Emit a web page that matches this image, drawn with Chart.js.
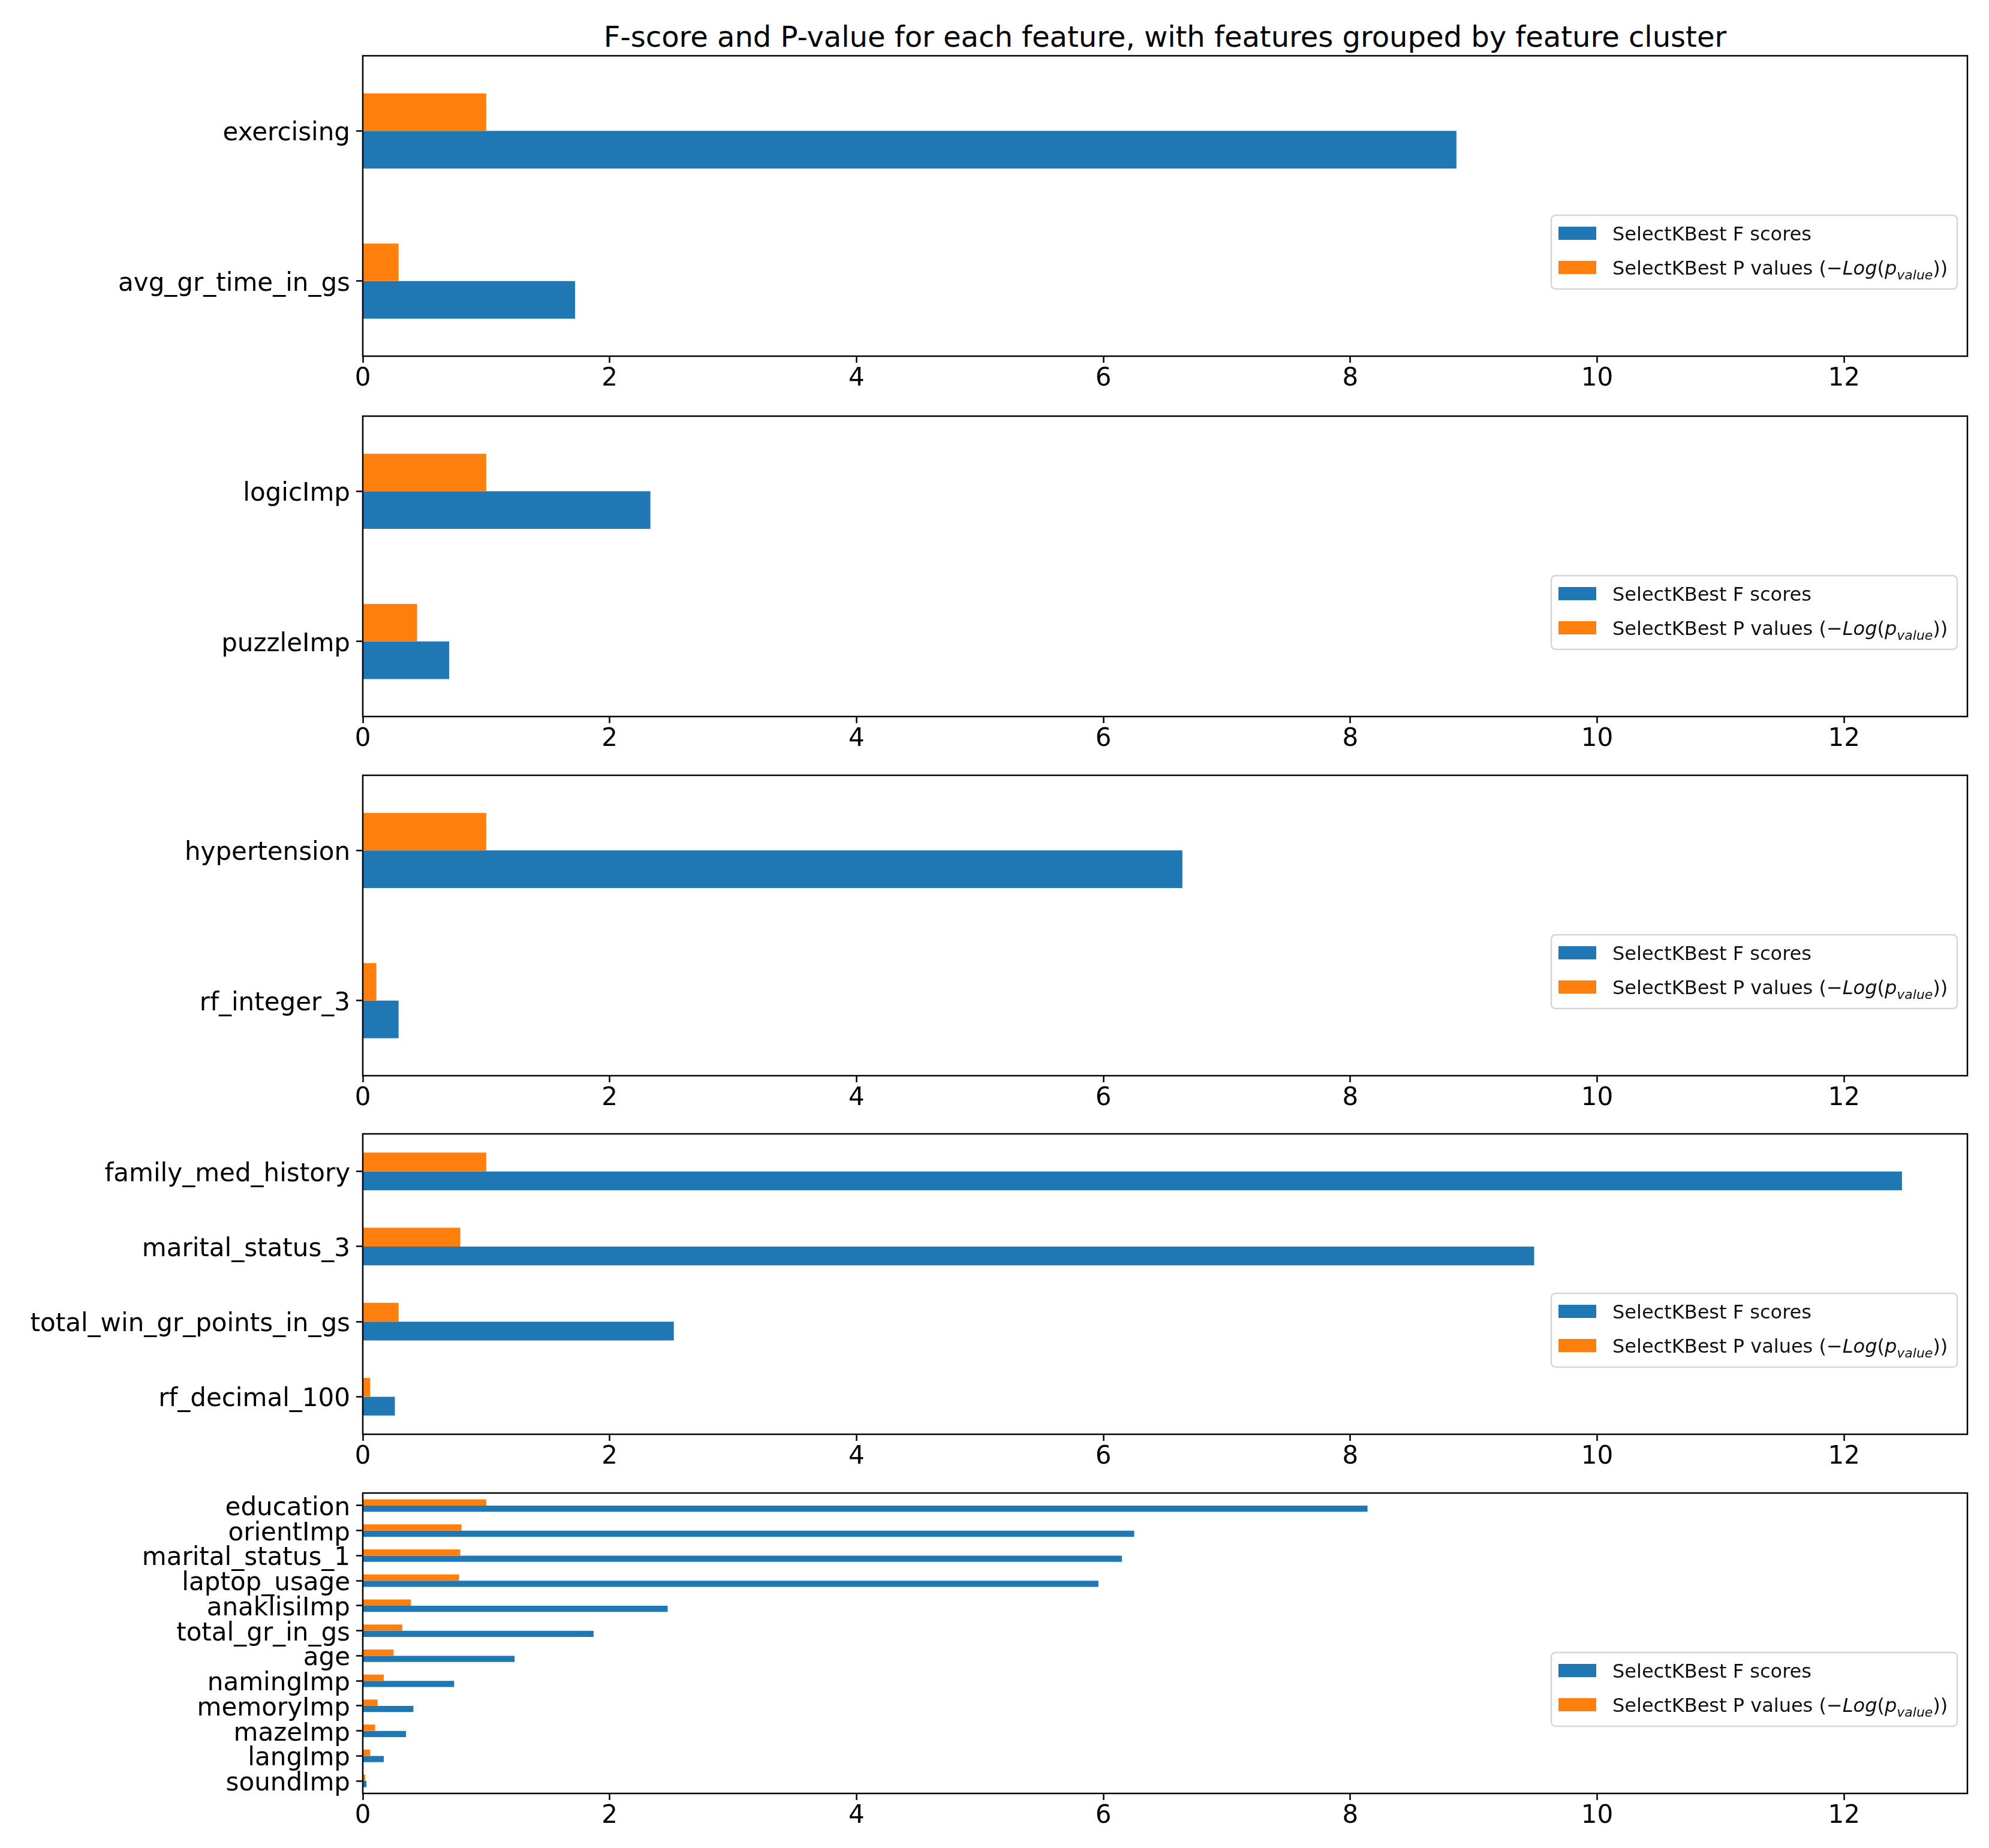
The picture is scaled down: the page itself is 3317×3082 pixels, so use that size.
<!DOCTYPE html>
<html>
<head>
<meta charset="utf-8">
<script src="https://cdn.jsdelivr.net/npm/chart.js@4.4.1/dist/chart.umd.min.js"></script>
<style>
    html, body { margin: 0; padding: 0; background: #fff; }
    #wrap { position: relative; width: 3317px; height: 3082px; background: #fff; }
    #title {
        position: absolute; left: 605px; width: 2676px; top: 34px;
        text-align: center; font: 48px 'DejaVu Sans'; line-height: 54px; color: #000;
    }
    canvas { position: absolute; left: 0; }
</style>
</head>
<body>
<div id="wrap">
    <div id="title">F-score and P-value for each feature, with features grouped by feature cluster</div>
    <canvas id="c1" width="3317" height="611"></canvas>
    <canvas id="c2" width="3317" height="611"></canvas>
    <canvas id="c3" width="3317" height="611"></canvas>
    <canvas id="c4" width="3317" height="611"></canvas>
    <canvas id="c5" width="3317" height="611"></canvas>
</div>
<script>
// Datos
const labels1 = ['exercising', 'avg_gr_time_in_gs'];
const fScores1 = [8.86, 1.72];
const pValues1 = [1.0, 0.29];

const labels2 = ['logicImp', 'puzzleImp'];
const fScores2 = [2.33, 0.70];
const pValues2 = [1.0, 0.44];

const labels3 = ['hypertension', 'rf_integer_3'];
const fScores3 = [6.64, 0.29];
const pValues3 = [1.0, 0.11];

const labels4 = ['family_med_history', 'marital_status_3', 'total_win_gr_points_in_gs', 'rf_decimal_100'];
const fScores4 = [12.47, 9.49, 2.52, 0.26];
const pValues4 = [1.0, 0.79, 0.29, 0.06];

const labels5 = ['education', 'orientImp', 'marital_status_1', 'laptop_usage', 'anaklisiImp', 'total_gr_in_gs',
    'age', 'namingImp', 'memoryImp', 'mazeImp', 'langImp', 'soundImp'];
const fScores5 = [8.14, 6.25, 6.15, 5.96, 2.47, 1.87, 1.23, 0.74, 0.41, 0.35, 0.17, 0.03];
const pValues5 = [1.0, 0.80, 0.79, 0.78, 0.39, 0.32, 0.25, 0.17, 0.12, 0.10, 0.06, 0.02];

const xTicks = [0, 2, 4, 6, 8, 10, 12];
const X_MAX = 13;

const legendTexts = ['SelectKBest F scores', 'SelectKBest P values ('];

// Estilo
const BLUE = '#1f77b4';
const ORANGE = '#ff7f0e';
const FONT = "'DejaVu Sans'";
const TICK_FONT = 42;
const LEGEND_FONT = 32;
const PANEL_TOPS = [93, 694, 1293, 1891, 2490];
const PANEL_H = 501;
const PAD_TOP = 10;
const AXIS_LEFT = 605;
const RIGHT_PAD = 36;

// Marco de los ejes (4 lados)
const framePlugin = {
    id: 'frame',
    afterDatasetsDraw(chart) {
        const { ctx, chartArea: a } = chart;
        ctx.save();
        ctx.strokeStyle = '#000';
        ctx.lineWidth = 2.5;
        ctx.strokeRect(a.left, a.top, a.right - a.left, a.bottom - a.top);
        ctx.restore();
    }
};

// Leyenda estilo matplotlib, con subíndice
const legendPlugin = {
    id: 'mplLegend',
    afterDraw(chart) {
        const { ctx, chartArea: a } = chart;
        const h = a.bottom - a.top;
        const boxW = 677, boxH = 123;
        const x0 = a.right - 17 - boxW;
        const y0 = a.top + 0.531 * h;

        ctx.save();
        ctx.beginPath();
        ctx.roundRect(x0, y0, boxW, boxH, 7);
        ctx.fillStyle = 'rgba(255,255,255,0.8)';
        ctx.fill();
        ctx.strokeStyle = '#d6d6d6';
        ctx.lineWidth = 2.5;
        ctx.stroke();

        const rows = [y0 + 30, y0 + 87];
        const colors = [BLUE, ORANGE];
        for (let i = 0; i < 2; i++) {
            ctx.fillStyle = colors[i];
            ctx.fillRect(x0 + 12, rows[i] - 11, 63, 22);
        }

        ctx.fillStyle = '#111';
        ctx.textBaseline = 'alphabetic';
        const tx = x0 + 102;
        const base0 = rows[0] + 0.36 * LEGEND_FONT;
        ctx.font = `${LEGEND_FONT}px ${FONT}`;
        ctx.fillText(legendTexts[0], tx, base0);

        // SelectKBest P values (−Log(p_value))
        const base1 = rows[1] + 0.36 * LEGEND_FONT;
        let x = tx;
        const part = (txt, font, dy) => {
            ctx.font = font;
            ctx.fillText(txt, x, base1 + (dy || 0));
            x += ctx.measureText(txt).width;
        };
        const normal = `${LEGEND_FONT}px ${FONT}`;
        const italic = `italic ${LEGEND_FONT}px ${FONT}`;
        const sub = `italic ${Math.round(LEGEND_FONT * 0.7)}px ${FONT}`;
        part(legendTexts[1], normal);
        part('\u2212', normal);
        part('Log', italic);
        part('(', normal);
        part('p', italic);
        part('value', sub, 0.25 * LEGEND_FONT);
        part('))', normal);
        ctx.restore();
    }
};

function makePanel(canvasId, top, labels, fScores, pValues) {
    const canvas = document.getElementById(canvasId);
    canvas.style.top = (top - PAD_TOP) + 'px';
    const canvasH = canvas.height;

    return new Chart(canvas.getContext('2d'), {
        type: 'bar',
        data: {
            labels: labels,
            datasets: [
                {
                    label: 'SelectKBest P values',
                    data: pValues,
                    backgroundColor: ORANGE,
                    borderWidth: 0,
                    categoryPercentage: 0.5,
                    barPercentage: 1.0
                },
                {
                    label: 'SelectKBest F scores',
                    data: fScores,
                    backgroundColor: BLUE,
                    borderWidth: 0,
                    categoryPercentage: 0.5,
                    barPercentage: 1.0
                }
            ]
        },
        options: {
            indexAxis: 'y',
            responsive: false,
            devicePixelRatio: 1,
            animation: false,
            layout: { padding: { top: PAD_TOP, right: RIGHT_PAD, left: 0, bottom: 0 } },
            plugins: {
                legend: { display: false },
                tooltip: { enabled: false },
                title: { display: false }
            },
            scales: {
                x: {
                    type: 'linear',
                    min: 0,
                    max: X_MAX,
                    border: { display: false },
                    grid: {
                        display: true,
                        drawOnChartArea: false,
                        drawTicks: true,
                        tickLength: 11,
                        tickColor: '#000',
                        tickWidth: 2.5
                    },
                    afterBuildTicks: (scale) => {
                        scale.ticks = xTicks.map(v => ({ value: v }));
                    },
                    ticks: {
                        color: '#000',
                        font: { family: 'DejaVu Sans', size: TICK_FONT },
                        padding: 2,
                        maxRotation: 0,
                        autoSkip: false
                    },
                    afterFit: (scale) => {
                        scale.height = canvasH - PAD_TOP - PANEL_H;
                        scale.paddingLeft = 0;
                        scale.paddingRight = 0;
                    }
                },
                y: {
                    type: 'category',
                    offset: true,
                    border: { display: false },
                    grid: {
                        display: true,
                        offset: false,
                        drawOnChartArea: false,
                        drawTicks: true,
                        tickLength: 11,
                        tickColor: '#000',
                        tickWidth: 2.5
                    },
                    ticks: {
                        color: '#000',
                        font: { family: 'DejaVu Sans', size: TICK_FONT },
                        padding: 10,
                        labelOffset: 5,
                        autoSkip: false
                    },
                    afterFit: (scale) => {
                        scale.width = AXIS_LEFT;
                        scale.paddingTop = 0;
                        scale.paddingBottom = 0;
                    }
                }
            }
        },
        plugins: [framePlugin, legendPlugin]
    });
}

function init() {
    makePanel('c1', PANEL_TOPS[0], labels1, fScores1, pValues1);
    makePanel('c2', PANEL_TOPS[1], labels2, fScores2, pValues2);
    makePanel('c3', PANEL_TOPS[2], labels3, fScores3, pValues3);
    makePanel('c4', PANEL_TOPS[3], labels4, fScores4, pValues4);
    makePanel('c5', PANEL_TOPS[4], labels5, fScores5, pValues5);
}

init();
</script>
</body>
</html>
